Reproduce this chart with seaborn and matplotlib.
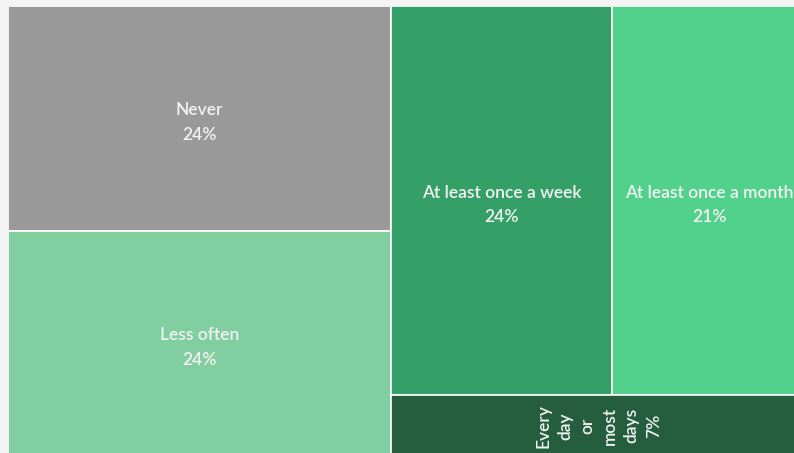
import matplotlib
matplotlib.use("Agg")
import matplotlib.pyplot as plt
from matplotlib.patches import Rectangle
import seaborn as sns

# Survey answers and their shares (%)
labels = ["Never", "Less often", "At least once a week",
          "At least once a month", "Every day or most days"]
values = [24, 24, 24, 21, 7]
colors = ["#999999", "#81cea1", "#34a068", "#52d18c", "#245e3f"]
# cells laid out strip by strip, each strip along the shorter side left over
strips = [[0, 1], [2, 3], [4]]

sns.set_theme(style="white")
plt.rcParams["font.family"] = ["Lato", "DejaVu Sans"]

fig = plt.figure(figsize=(7.94, 4.53), dpi=100)
fig.patch.set_facecolor("#f4f4f4")

W, H = 798.0, 450.0
ax = fig.add_axes([8 / 794, -3 / 453, W / 794, H / 453])
ax.set_xlim(0, W)
ax.set_ylim(H, 0)
ax.axis("off")


def layout(vals, groups, x, y, w, h):
    scale = w * h / float(sum(vals))
    rects = {}
    for g in groups:
        area = sum(vals[i] for i in g) * scale
        if h <= w:
            sw = area / h
            yy = y
            for i in g:
                ch = vals[i] * scale / sw
                rects[i] = (x, yy, sw, ch)
                yy += ch
            x += sw
            w -= sw
        else:
            sh = area / w
            xx = x
            for i in g:
                cw = vals[i] * scale / sh
                rects[i] = (xx, y, cw, sh)
                xx += cw
            y += sh
            h -= sh
    return rects


rects = layout(values, strips, 0, 0, W, H)

ax.add_patch(Rectangle((0, 0), W, H, facecolor="none", edgecolor="#c6c6c6",
                       lw=1.2, zorder=0))
for i, (x, y, w, h) in rects.items():
    ax.add_patch(Rectangle((x, y), w, h, facecolor=colors[i],
                           edgecolor="white", lw=1.2, zorder=1))
    cx, cy = x + w / 2, y + h / 2
    if w < 0.3 * h or h < 80:
        txt = "\n".join(labels[i].split()) + f"\n{values[i]}%"
        ax.text(cx, cy, txt, rotation=90, ha="center", va="center",
                multialignment="center", color="#f2f2f2", fontsize=12.5,
                fontweight="semibold", linespacing=1.47, zorder=2)
    else:
        ax.text(cx, cy + 4, f"{labels[i]}\n{values[i]}%", ha="center",
                va="center", multialignment="center", color="#f2f2f2",
                fontsize=12.5, fontweight="semibold", linespacing=1.62,
                zorder=2)

fig.savefig("out.png", dpi=100, facecolor=fig.get_facecolor())
